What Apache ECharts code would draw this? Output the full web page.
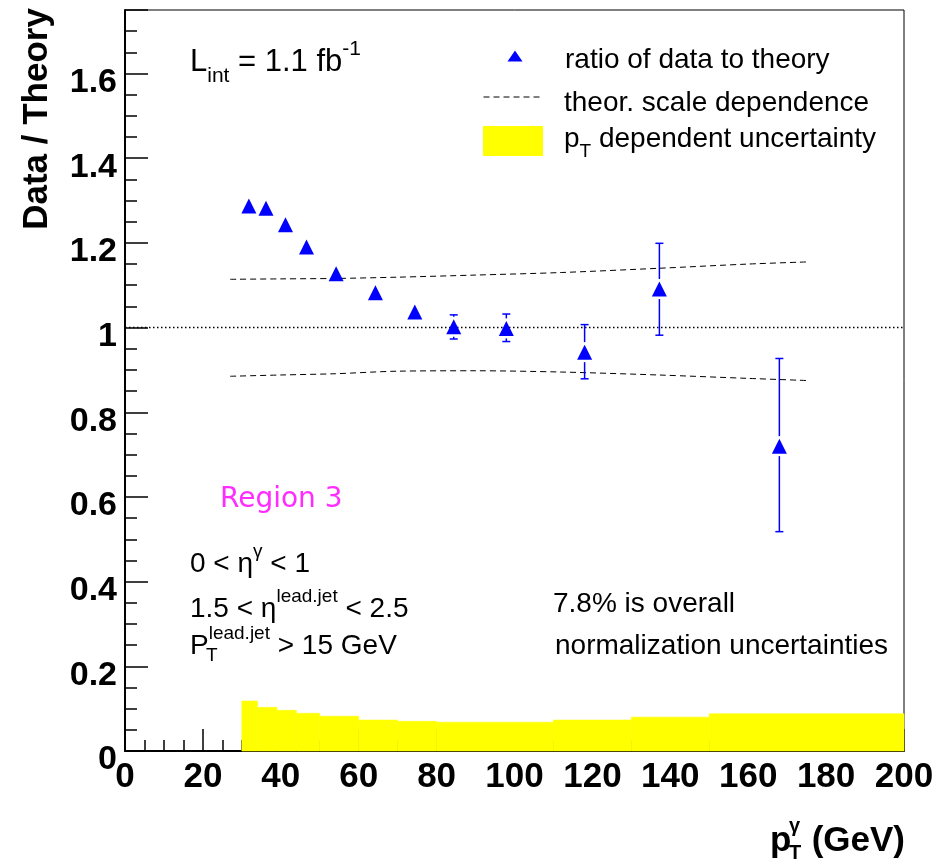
<!DOCTYPE html>
<html>
<head>
<meta charset="utf-8">
<script src="https://cdn.jsdelivr.net/npm/echarts@6/dist/echarts.min.js"></script>
<style>
  html, body { margin: 0; padding: 0; background: #ffffff; }
  #chart { width: 940px; height: 860px; }
</style>
</head>
<body>
<div id="chart"></div>
<script>
// ---- data ----------------------------------------------------------------
// photon pT of each measured point (GeV) and the data/theory ratio
const ptPoints     = [31.8, 36.2, 41.2, 46.6, 54.2, 64.3, 74.4, 84.4, 97.9, 118.0, 137.2, 168.0];
const ratioValues  = [1.287, 1.282, 1.243, 1.190, 1.127, 1.082, 1.037, 1.002, 0.998, 0.942, 1.091, 0.720];
// error bar ends (null where the error is smaller than the marker)
const ratioErrHigh = [null, null, null, null, null, null, null, 1.030, 1.032, 1.007, 1.199, 0.927];
const ratioErrLow  = [null, null, null, null, null, null, null, 0.973, 0.967, 0.879, 0.982, 0.518];

// theoretical scale dependence band (upper / lower edge)
const scaleX       = [27, 40, 54, 70, 90, 112, 137, 160, 175];
const scaleUpper   = [1.114, 1.115, 1.116, 1.119, 1.124, 1.130, 1.140, 1.150, 1.155];
const scaleLower   = [0.885, 0.888, 0.891, 0.897, 0.898, 0.895, 0.888, 0.880, 0.875];

// pT dependent uncertainty histogram: bin edges and contents
const uncEdges     = [30, 34, 39, 44, 50, 60, 70, 80, 110, 130, 150, 200];
const uncValues    = [0.118, 0.103, 0.096, 0.089, 0.082, 0.073, 0.070, 0.068, 0.073, 0.080, 0.088];

// axis tick labels
const xTickLabels  = ['0', '20', '40', '60', '80', '100', '120', '140', '160', '180', '200'];
const yTickLabels  = ['0', '0.2', '0.4', '0.6', '0.8', '1', '1.2', '1.4', '1.6'];

// ---- styling ----------------------------------------------------------------
const FONT = '"Liberation Sans", Arial, Helvetica, sans-serif';
const LEG1 = 'ratio of data to theory';
const LEG2 = 'theor. scale dependence';
const LEG3 = 'pT dependent uncertainty';

const pointData = ptPoints.map((x, i) => [x, ratioValues[i]]);
const errData = [];
ptPoints.forEach((x, i) => {
  if (ratioErrHigh[i] != null) errData.push([x, ratioValues[i], ratioErrLow[i], ratioErrHigh[i]]);
});
const upperData = scaleX.map((x, i) => [x, scaleUpper[i]]);
const lowerData = scaleX.map((x, i) => [x, scaleLower[i]]);
const uncBins = uncValues.map((v, i) => [uncEdges[i], uncEdges[i + 1], v]);

// rich text pieces for sub/superscripts
const RICH = {
  m:   { fontSize: 28, lineHeight: 44, fontFamily: FONT, fill: '#000' },
  sup: { fontSize: 19, lineHeight: 22, verticalAlign: 'top', fontFamily: FONT, fill: '#000' },
  sub: { fontSize: 19, lineHeight: 16, verticalAlign: 'bottom', fontFamily: FONT, fill: '#000' },
  lsub: { fontSize: 19, lineHeight: 22, verticalAlign: 'bottom', fontFamily: FONT, fill: '#000' },
  M:   { fontSize: 31, lineHeight: 48, fontFamily: FONT, fill: '#000' },
  SUP: { fontSize: 21, lineHeight: 24, verticalAlign: 'top', fontFamily: FONT, fill: '#000' },
  SUB: { fontSize: 21, lineHeight: 18, verticalAlign: 'bottom', fontFamily: FONT, fill: '#000' }
};

function label(x, y, text, extra) {
  return {
    type: 'text', x: x, y: y, silent: true, z: 10,
    style: Object.assign({
      text: text, rich: RICH, fontFamily: FONT, fontSize: 28, fill: '#000',
      align: 'left', verticalAlign: 'middle'
    }, extra || {})
  };
}

const line = (x1, y1, x2, y2) => ({ type: 'line', shape: { x1, y1, x2, y2 } });

// legend boxes carry only the keys; their captions are placed as text below
const legendKey = (name, extra) => Object.assign({
  data: [name], padding: 0, selectedMode: false, formatter: () => '',
  textStyle: { fontSize: 1, padding: 0 }
}, extra);

const chart = echarts.init(document.getElementById('chart'), null, { renderer: 'canvas', width: 940, height: 860 });

chart.setOption({
  animation: false,
  backgroundColor: '#ffffff',
  grid: {
    left: 125, right: 36, top: 10, bottom: 109,
    show: true, borderColor: '#000', borderWidth: 1, backgroundColor: 'transparent',
    containLabel: false, outerBoundsMode: 'none'
  },
  xAxis: {
    type: 'value', min: 0, max: 200, interval: 20,
    axisLine: { show: true, onZero: false, lineStyle: { color: '#000', width: 2 } },
    axisTick: { show: true, inside: true, length: 22, lineStyle: { color: '#000', width: 1.5 } },
    minorTick: { show: true, splitNumber: 4, length: 11, lineStyle: { color: '#000', width: 1.5 } },
    axisLabel: {
      show: true, margin: 9, fontSize: 35, fontWeight: 'bold', fontFamily: FONT, color: '#000',
      showMinLabel: true, showMaxLabel: true, hideOverlap: false,
      formatter: v => xTickLabels[Math.round(v / 20)] || ''
    },
    splitLine: { show: false }, minorSplitLine: { show: false }
  },
  yAxis: [
    {
      type: 'value', min: 0, max: 1.75, interval: 0.2, position: 'left',
      axisLine: { show: true, onZero: false, lineStyle: { color: '#000', width: 2 } },
      axisTick: { show: true, inside: true, length: 23, lineStyle: { color: '#000', width: 1.5 } },
      axisLabel: {
        show: true, margin: 8, verticalAlign: 'top', lineHeight: 18, fontSize: 34, fontWeight: 'bold',
        fontFamily: FONT, color: '#000', hideOverlap: false,
        formatter: v => {
          const k = Math.round(v / 0.2);
          return Math.abs(v - k * 0.2) < 1e-6 ? (yTickLabels[k] || '') : '';
        }
      },
      splitLine: { show: false }
    },
    {
      type: 'value', min: 0, max: 1.75, interval: 0.05, position: 'left',
      axisLine: { show: false, onZero: false },
      axisTick: { show: true, inside: true, length: 12, lineStyle: { color: '#000', width: 1.5 } },
      axisLabel: { show: false },
      splitLine: { show: false }
    }
  ],
  legend: [
    legendKey(LEG1, { data: [{ name: LEG1, icon: 'triangle' }], left: 507.5, top: 50.5, itemWidth: 15, itemHeight: 11 }),
    legendKey(LEG2, { data: [{ name: LEG2, itemStyle: { opacity: 0 } }], left: 483, top: 90, itemWidth: 60, itemHeight: 14,
                      lineStyle: { color: '#000', width: 1, type: [6, 4] } }),
    legendKey(LEG3, { data: [{ name: LEG3, icon: 'rect' }], left: 483, top: 126, itemWidth: 60, itemHeight: 30 })
  ],
  series: [
    {
      // pT dependent uncertainty histogram
      type: 'custom', name: LEG3, z: 2, silent: true,
      itemStyle: { color: '#ffff00' },
      encode: { x: [0, 1], y: 2 },
      data: uncBins,
      renderItem: (params, api) => {
        const a = api.coord([api.value(0), api.value(2)]);
        const b = api.coord([api.value(1), 0]);
        return {
          type: 'rect',
          shape: { x: a[0], y: a[1], width: b[0] - a[0], height: b[1] - a[1] },
          style: { fill: '#ffff00', stroke: '#ffff00', lineWidth: 0.6 }
        };
      }
    },
    {
      // reference line at ratio = 1
      type: 'line', name: 'unity', z: 3, silent: true,
      data: [[0, 1], [200, 1]],
      symbol: 'none', showSymbol: false,
      lineStyle: { color: '#000', width: 1.5, type: [1.5, 2.5] }
    },
    {
      type: 'line', name: LEG2, z: 3, silent: true,
      data: upperData, symbol: 'none', showSymbol: false, smooth: 0.3,
      itemStyle: { color: '#000' },
      lineStyle: { color: '#000', width: 1, type: [6, 4] }
    },
    {
      type: 'line', name: LEG2, z: 3, silent: true,
      data: lowerData, symbol: 'none', showSymbol: false, smooth: 0.3,
      itemStyle: { color: '#000' },
      lineStyle: { color: '#000', width: 1, type: [6, 4] }
    },
    {
      // error bars, interrupted around the marker
      type: 'custom', name: 'errors', z: 4, silent: true,
      encode: { x: 0, y: [1, 2, 3] },
      data: errData,
      renderItem: (params, api) => {
        const c = api.coord([api.value(0), api.value(1)]);
        const lo = api.coord([api.value(0), api.value(2)]);
        const hi = api.coord([api.value(0), api.value(3)]);
        const gap = 10, cap = 4;
        const parts = [];
        if (hi[1] < c[1] - gap) parts.push(line(c[0], hi[1], c[0], c[1] - gap));
        if (lo[1] > c[1] + gap) parts.push(line(c[0], c[1] + gap, c[0], lo[1]));
        parts.push(line(c[0] - cap, hi[1], c[0] + cap, hi[1]));
        parts.push(line(c[0] - cap, lo[1], c[0] + cap, lo[1]));
        parts.forEach(p => { p.style = { stroke: '#0000ff', lineWidth: 1.5 }; });
        return { type: 'group', children: parts };
      }
    },
    {
      type: 'scatter', name: LEG1, z: 5, silent: true,
      data: pointData,
      symbol: 'triangle', symbolSize: 15,
      itemStyle: { color: '#0000ff', opacity: 1 }
    }
  ],
  graphic: [
    // axis titles
    {
      type: 'text', x: 37.5, y: 119, rotation: Math.PI / 2, silent: true,
      style: { text: 'Data / Theory', fontFamily: FONT, fontSize: 35, fontWeight: 'bold', fill: '#000', align: 'center', verticalAlign: 'middle' }
    },
    { type: 'text', x: 770, y: 841, silent: true,
      style: { text: 'p', fontFamily: FONT, fontSize: 35, fontWeight: 'bold', fill: '#000', align: 'left', verticalAlign: 'middle' } },
    { type: 'text', x: 789, y: 826, silent: true,
      style: { text: 'γ', fontFamily: FONT, fontSize: 20, fontWeight: 'bold', fill: '#000', align: 'left', verticalAlign: 'middle' } },
    { type: 'text', x: 789, y: 853, silent: true,
      style: { text: 'T', fontFamily: FONT, fontSize: 20, fontWeight: 'bold', fill: '#000', align: 'left', verticalAlign: 'middle' } },
    { type: 'text', x: 905, y: 841, silent: true,
      style: { text: '(GeV)', fontFamily: FONT, fontSize: 35, fontWeight: 'bold', fill: '#000', align: 'right', verticalAlign: 'middle' } },

    // legend captions
    label(565, 60.5, LEG1, { rich: null }),
    label(564, 103, LEG2, { rich: null }),
    label(564, 139, '{m|p}{lsub|T}{m| dependent uncertainty}'),

    // annotations
    label(190, 62.5, '{M|L}{SUB|int}{M| = 1.1 fb}{SUP|-1}'),
    label(220, 499.5, 'Region 3', { fontFamily: '"DejaVu Sans", sans-serif', fontSize: 28, fill: '#ff2cff', rich: null }),
    label(190, 564.5, '{m|0 < η}{sup|γ}{m| < 1}'),
    label(190, 609, '{m|1.5 < η}{sup|lead.jet}{m| < 2.5}'),
    label(190, 646, '{m|P}{sup|lead.jet}{m| > 15 GeV}'),
    label(206, 657, '{sub|T}'),
    label(553, 604.5, '7.8% is overall', { rich: null }),
    label(555, 646, 'normalization uncertainties', { rich: null })
  ]
});
</script>
</body>
</html>
